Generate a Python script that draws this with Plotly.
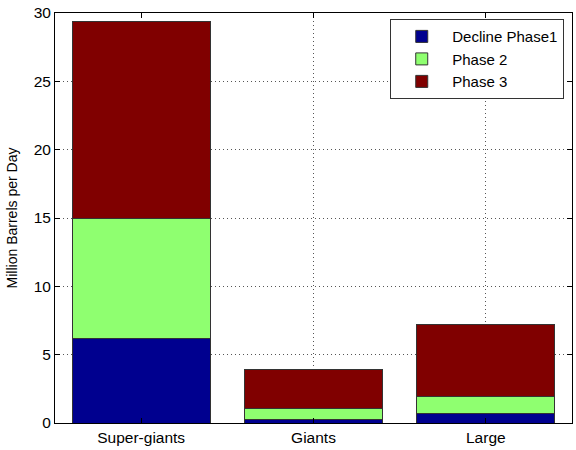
import plotly.graph_objects as go

categories = ["Super-giants", "Giants", "Large"]
phase1 = [6.2, 0.25, 0.7]
phase2 = [8.8, 0.78, 1.23]
phase3 = [14.4, 2.9, 5.3]
series_names = ["Decline Phase1", "Phase 2", "Phase 3"]
colors = ["#00008F", "#8FFF70", "#800000"]

fig = go.Figure()
for name, vals, c in zip(series_names, [phase1, phase2, phase3], colors):
    fig.add_trace(go.Bar(x=categories, y=vals, name=name, marker_color=c,
                         marker_line_color="#333333", marker_line_width=1, width=0.8))

fam = "Liberation Sans, Arial, sans-serif"
fig.update_layout(
    barmode="stack",
    width=576, height=450,
    margin=dict(l=55, r=4, t=13, b=27),
    plot_bgcolor="white", paper_bgcolor="white",
    font=dict(family=fam, size=15, color="black"),
    legend=dict(x=0.985, y=0.985, xanchor="right", yanchor="top",
                bordercolor="#333333", borderwidth=1, bgcolor="white",
                font=dict(family=fam, size=15, color="black"),
                tracegroupgap=0, traceorder="normal", itemwidth=51),
)
grid = dict(showgrid=True, gridcolor="#555555", griddash="1px,3px", gridwidth=1)
fig.update_xaxes(showline=True, linecolor="black", linewidth=1, mirror="ticks",
                 ticks="inside", ticklen=5, tickcolor="black",
                 tickfont=dict(size=15.5), **grid)
fig.update_yaxes(range=[0, 30], dtick=5, showline=True, linecolor="black", linewidth=1,
                 mirror="ticks", ticks="inside", ticklen=5, tickcolor="black",
                 zeroline=False, tickfont=dict(size=15.5),
                 title=dict(text="Million Barrels per Day", font=dict(size=14), standoff=12),
                 **grid)

fig.write_html("out.html", config={"displayModeBar": False},
               post_script="document.body.style.margin='0';")
